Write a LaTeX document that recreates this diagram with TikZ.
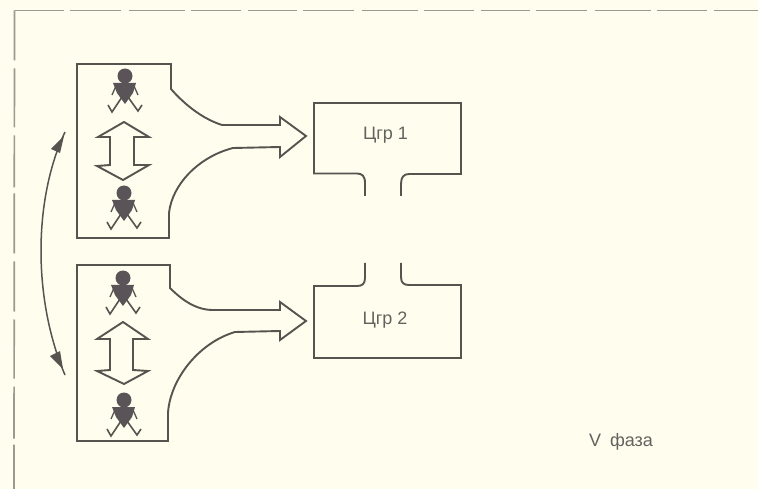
\documentclass[tikz,border=0pt]{standalone}
\usepackage{fontspec}
\setmainfont{Liberation Sans}
\definecolor{paper}{HTML}{FEFDEE}
\definecolor{ink}{HTML}{55544F}
\definecolor{figure}{HTML}{5A5358}
\definecolor{frameink}{HTML}{9A9A8E}
\definecolor{textink}{HTML}{62625E}
\tikzset{
  outline/.style={draw=ink,line width=1.9pt,line join=miter},
  framedash/.style={draw=frameink,line width=1.7pt},
  label/.style={text=textink,font=\fontsize{18}{20}\selectfont,inner sep=0pt},
  person/.pic={
    \fill[figure] (0,0) circle (7.5pt);
    \fill[figure] (-12,7) -- (11,7) -- (8,17) -- (0,28) -- (-8,17) -- cycle;
    \draw[ink,line width=1.3pt] (-9,10) -- (-13,19) (9,10) -- (13,19);
    \draw[ink,line width=1.6pt,line join=miter] (-17,29) -- (-13,36) -- (-3,21);
    \draw[ink,line width=1.6pt,line join=miter] (3,21) -- (13,35) -- (17,29);
  }
}
\begin{document}
\begin{tikzpicture}[x=1pt,y=-1pt]
\useasboundingbox (0,0) rectangle (758,489);
\fill[paper] (0,0) rectangle (758,489);
% dashed frame
\coordinate (fc) at (14.5,10.5);
\coordinate (fr) at (758,10.5);
\coordinate (fb) at (14,489);
\draw[framedash,dash pattern=on 49pt off 6pt on 51pt off 8pt on 56pt off 6pt on 50pt off 7pt] (fc) -- (fr);
\draw[framedash,dash pattern=on 50pt off 8pt on 59pt off 8pt on 52pt off 6pt on 60pt off 8pt] (fc) -- (fb);
% circulation arrow
\coordinate (ct) at (65,132);
\coordinate (cb) at (65,375);
\draw[ink,line width=1.5pt] (ct) .. controls (33,200) and (33,300) .. (cb);
\fill[ink] (64,136) -- (51,149) -- (60,153) -- cycle;
\fill[ink] (63,369) -- (50,356) -- (60,351) -- cycle;
% upper approach
\draw[outline] (77,64) -- (171,64) -- (171,89) .. controls (185,105) and (203,119) .. (222,125) -- (280,125) -- (280,117) -- (306,136) -- (280,157) -- (280,147) -- (233,148) .. controls (198,157) and (172,185) .. (169,213) -- (169,238) -- (77,238) -- cycle;
\draw[outline] (124,122) -- (149,137) -- (134,137) -- (134,165) -- (149,165) -- (123,180) -- (97,166) -- (110,165) -- (110,137) -- (98,137) -- cycle;
\pic at (125,76) {person};
\pic at (124,193) {person};
% lower approach
\draw[outline] (77,265) -- (170,265) -- (170,288) .. controls (182,300) and (196,310) .. (213,310) -- (280,310) -- (280,302) -- (306,321) -- (280,340) -- (280,331) -- (235,332) .. controls (198,343) and (170,380) .. (168,413) -- (168,441) -- (77,441) -- cycle;
\draw[outline] (123,322) -- (148,339) -- (133,339) -- (133,370) -- (148,371) -- (124,384) -- (97,371) -- (110,370) -- (110,339) -- (97,339) -- cycle;
\pic at (123,278) {person};
\pic at (124,400) {person};
% signal groups
\draw[outline] (365,196) -- (365,183) .. controls (365,176) and (362,173.5) .. (357,173.5) -- (314,173.5) -- (314,103) -- (461,103) -- (461,174) -- (409,174) .. controls (404,174) and (401,177) .. (401,184) -- (401,196);
\draw[outline] (365,263) -- (365,278) .. controls (365,284) and (362,286) .. (357,286) -- (314,286) -- (314,358) -- (461,358) -- (461,285) -- (409,285) .. controls (404,285) and (401,283) .. (401,277) -- (401,263);
\node[label] (g1) at (385.5,135.5) {Цгр 1};
\node[label] (g2) at (385,320.5) {Цгр 2};
\node[label] (phase) at (621,442) {V\hspace{4pt} фаза};
\end{tikzpicture}
\end{document}
